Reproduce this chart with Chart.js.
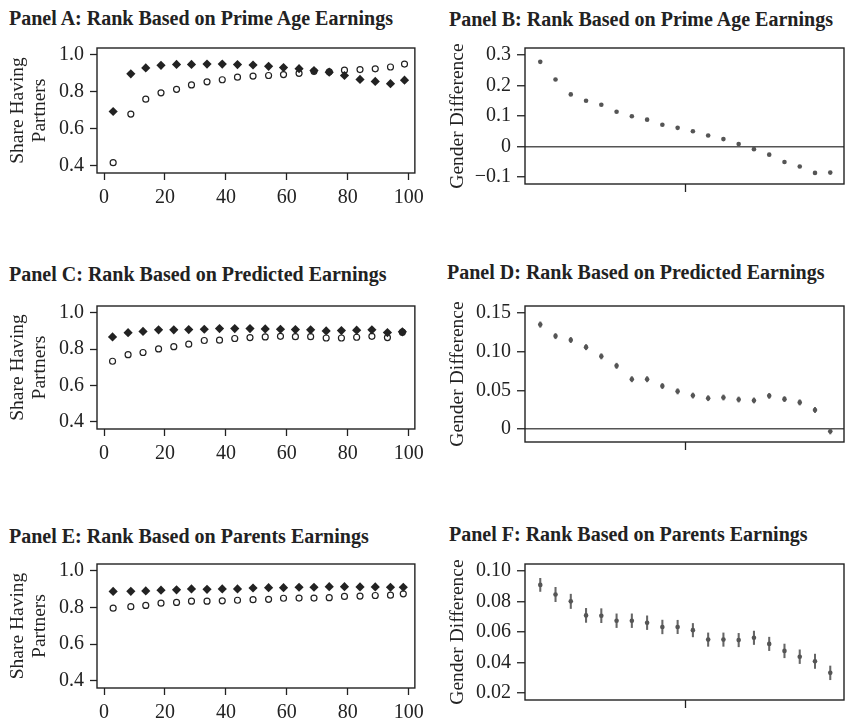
<!DOCTYPE html>
<html>
<head>
<meta charset="utf-8">
<script src="https://cdn.jsdelivr.net/npm/chart.js@4"></script>
<style>
body { margin:0; width:848px; height:723px; overflow:hidden; background:#fff; position:relative; font-family:"Liberation Serif", serif; }
.t { position:absolute; font-weight:bold; font-size:20px; line-height:24px; color:#222; white-space:nowrap; }
canvas { position:absolute; }
</style>
</head>
<body>
<div class="t" style="left:9px;top:6px">Panel A: Rank Based on Prime Age Earnings</div>
<div class="t" style="left:449px;top:7px">Panel B: Rank Based on Prime Age Earnings</div>
<div class="t" style="left:9px;top:262px">Panel C: Rank Based on Predicted Earnings</div>
<div class="t" style="left:447px;top:260px">Panel D: Rank Based on Predicted Earnings</div>
<div class="t" style="left:9px;top:524px">Panel E: Rank Based on Parents Earnings</div>
<div class="t" style="left:449px;top:522px">Panel F: Rank Based on Parents Earnings</div>

<canvas id="cA" width="430" height="190" style="left:0;top:30px"></canvas>
<canvas id="cB" width="418" height="190" style="left:430px;top:30px"></canvas>
<canvas id="cC" width="430" height="190" style="left:0;top:288px"></canvas>
<canvas id="cD" width="418" height="190" style="left:430px;top:288px"></canvas>
<canvas id="cE" width="430" height="190" style="left:0;top:546px"></canvas>
<canvas id="cF" width="418" height="190" style="left:430px;top:546px"></canvas>

<script>
// rank positions (left panels) and bin index (right panels)
var rankA = [3.0, 8.8, 13.7, 18.7, 23.8, 28.7, 33.8, 38.8, 43.8, 48.9, 54.0, 58.9, 64.0, 68.9, 73.9, 78.9, 84.0, 89.0, 94.0, 98.6];
var rankC = [2.8, 7.9, 12.8, 17.9, 22.9, 27.8, 32.9, 37.9, 42.9, 47.9, 52.9, 57.9, 62.8, 67.8, 72.9, 77.9, 82.9, 87.9, 93.0, 97.9];
var rankE = [3.0, 8.8, 13.7, 18.7, 23.8, 28.7, 33.8, 38.8, 43.8, 48.9, 54.0, 58.9, 64.0, 68.9, 73.9, 78.9, 84.0, 89.0, 94.0, 98.2];
var bins = [1, 2, 3, 4, 5, 6, 7, 8, 9, 10, 11, 12, 13, 14, 15, 16, 17, 18, 19, 20];

// Panel A
var filledA = [0.693, 0.897, 0.929, 0.943, 0.948, 0.948, 0.950, 0.950, 0.947, 0.945, 0.938, 0.931, 0.925, 0.915, 0.906, 0.888, 0.867, 0.856, 0.844, 0.863];
var hollowA = [0.416, 0.679, 0.760, 0.794, 0.813, 0.837, 0.854, 0.865, 0.879, 0.885, 0.888, 0.893, 0.900, 0.911, 0.908, 0.917, 0.920, 0.924, 0.934, 0.950];
// Panel C
var filledC = [0.867, 0.890, 0.897, 0.906, 0.906, 0.907, 0.909, 0.913, 0.913, 0.913, 0.911, 0.909, 0.907, 0.906, 0.900, 0.902, 0.904, 0.906, 0.891, 0.895];
var hollowC = [0.733, 0.769, 0.781, 0.801, 0.813, 0.827, 0.847, 0.849, 0.858, 0.863, 0.867, 0.870, 0.868, 0.868, 0.861, 0.861, 0.865, 0.870, 0.863, 0.893];
// Panel E
var filledE = [0.887, 0.888, 0.890, 0.894, 0.896, 0.901, 0.899, 0.901, 0.901, 0.906, 0.908, 0.908, 0.910, 0.910, 0.913, 0.913, 0.912, 0.912, 0.910, 0.910];
var hollowE = [0.796, 0.804, 0.811, 0.823, 0.827, 0.834, 0.834, 0.836, 0.839, 0.842, 0.844, 0.850, 0.851, 0.851, 0.853, 0.860, 0.862, 0.865, 0.867, 0.874];

// gender differences and error half-widths
var diffB = [0.278, 0.220, 0.171, 0.150, 0.137, 0.114, 0.099, 0.088, 0.071, 0.061, 0.050, 0.036, 0.024, 0.008, -0.009, -0.027, -0.051, -0.066, -0.087, -0.086];
var diffD = [0.1345, 0.1197, 0.1147, 0.1055, 0.0937, 0.0815, 0.0643, 0.0643, 0.0555, 0.0487, 0.0433, 0.0399, 0.0408, 0.0382, 0.0370, 0.0429, 0.0387, 0.0345, 0.0248, -0.0025];
var errD = [0.0035, 0.0034, 0.0034, 0.0034, 0.0034, 0.0034, 0.0034, 0.0034, 0.0034, 0.0034, 0.0033, 0.0033, 0.0033, 0.0033, 0.0033, 0.0033, 0.0033, 0.0034, 0.0034, 0.0036];
var diffF = [0.0910, 0.0847, 0.0802, 0.0710, 0.0708, 0.0675, 0.0675, 0.0662, 0.0634, 0.0634, 0.0613, 0.0551, 0.0551, 0.0548, 0.0563, 0.0523, 0.0477, 0.0439, 0.0409, 0.0333];
var errF = [0.0043, 0.0047, 0.0047, 0.0046, 0.0046, 0.0045, 0.0045, 0.0045, 0.0045, 0.0044, 0.0044, 0.0044, 0.0044, 0.0044, 0.0044, 0.0044, 0.0045, 0.0045, 0.0047, 0.0045];

// tick values
var rankTicks = [0, 20, 40, 60, 80, 100];
var shareTicks = [0.4, 0.6, 0.8, 1.0];
var ticksB = [-0.1, 0, 0.1, 0.2, 0.3];
var ticksD = [0, 0.05, 0.10, 0.15];
var ticksF = [0.02, 0.04, 0.06, 0.08, 0.10];
var binTicks = [10.5];

Chart.defaults.font.family = '"Liberation Serif", serif';
Chart.defaults.color = '#222';

var boxPlugin = {
  id: 'box',
  afterDatasetsDraw: function (chart) {
    var a = chart.chartArea, c = chart.ctx;
    c.save();
    c.strokeStyle = '#222';
    c.lineWidth = 1.4;
    c.strokeRect(a.left, a.top, a.right - a.left, a.bottom - a.top);
    c.restore();
  }
};

function pts(xs, ys) {
  return xs.map(function (x, i) { return { x: x, y: ys[i] }; });
}

function shareChart(id, xs, filled, hollow, xAxisH) {
  new Chart(document.getElementById(id), {
    type: 'scatter',
    data: {
      datasets: [{
        data: pts(xs, filled),
        pointStyle: 'rectRot', pointRadius: 4.6, backgroundColor: '#222', borderColor: '#222', borderWidth: 0,
        order: 0
      }, {
        data: pts(xs, hollow),
        pointStyle: 'circle', pointRadius: 3, backgroundColor: '#fff', borderColor: '#222', borderWidth: 1.2,
        order: 1
      }]
    },
    options: {
      responsive: false, animation: false,
      layout: { padding: { left: 0, right: 12, top: 15, bottom: 0 } },
      plugins: { legend: { display: false }, tooltip: { enabled: false } },
      scales: {
        x: {
          min: -2.3, max: 102,
          afterFit: function (s) { s.height = xAxisH; },
          afterBuildTicks: function (s) { s.ticks = rankTicks.map(function (v) { return { value: v }; }); },
          grid: { drawOnChartArea: false, tickLength: 7, tickColor: '#222', tickWidth: 1.3 },
          border: { display: false },
          ticks: { font: { size: 20 }, padding: 6, maxRotation: 0 }
        },
        y: {
          min: 0.36, max: 1.037,
          afterFit: function (s) { s.width = 97; },
          afterBuildTicks: function (s) { s.ticks = shareTicks.map(function (v) { return { value: v }; }); },
          grid: { drawOnChartArea: false, tickLength: 7, tickColor: '#222', tickWidth: 1.3 },
          border: { display: false },
          ticks: { font: { size: 20 }, padding: 6, callback: function (v) { return v.toFixed(1); } },
          title: { display: true, text: ['Share Having', 'Partners'], font: { size: 19.5, lineHeight: '22px' }, padding: { top: 7, bottom: 0 } }
        }
      }
    },
    plugins: [boxPlugin]
  });
}

function diffChart(id, diff, err, yMin, yMax, yTicks, fmt) {
  var datasets = [{
    type: 'scatter',
    data: pts(bins, diff),
    pointStyle: 'circle', pointRadius: 2.3, backgroundColor: '#555', borderWidth: 0,
    order: 0
  }];
  if (err) {
    datasets.push({
      type: 'bar',
      data: bins.map(function (x, i) { return { x: x, y: [diff[i] - err[i], diff[i] + err[i]] }; }),
      backgroundColor: '#666', borderWidth: 0, barThickness: 1.4,
      order: 1
    });
  }
  new Chart(document.getElementById(id), {
    type: 'scatter',
    data: { datasets: datasets },
    options: {
      responsive: false, animation: false,
      layout: { padding: { left: 0, right: 1, top: 15, bottom: 0 } },
      plugins: { legend: { display: false }, tooltip: { enabled: false } },
      scales: {
        x: {
          type: 'linear', min: 0, max: 20.9, offset: false,
          afterFit: function (s) { s.height = 190 - 15 - 139; },
          afterBuildTicks: function (s) { s.ticks = binTicks.map(function (v) { return { value: v }; }); },
          grid: { drawOnChartArea: false, tickLength: 8, tickColor: '#222', tickWidth: 1.3, offset: false },
          border: { display: false },
          ticks: { display: false }
        },
        y: {
          min: yMin, max: yMax,
          afterFit: function (s) { s.width = 95; },
          afterBuildTicks: function (s) { s.ticks = yTicks.map(function (v) { return { value: v }; }); },
          grid: {
            drawOnChartArea: true, tickLength: 8, tickColor: '#222', tickWidth: 1.3, lineWidth: 1.5,
            color: function (c) { return c.tick && Math.abs(c.tick.value) < 1e-9 ? '#555' : 'rgba(0,0,0,0)'; }
          },
          border: { display: false },
          ticks: { font: { size: 20 }, padding: 6, callback: fmt },
          title: { display: true, text: 'Gender Difference', font: { size: 19.5, lineHeight: '22px' }, padding: { top: 17, bottom: 0 } }
        }
      }
    },
    plugins: [boxPlugin]
  });
}

function fmtB(v) {
  if (Math.abs(v) < 1e-9) return '0';
  return v < 0 ? '\u2212' + Math.abs(v).toFixed(1) : v.toFixed(1);
}
function fmt2(v) {
  if (Math.abs(v) < 1e-9) return '0';
  return v.toFixed(2);
}

shareChart('cA', rankA, filledA, hollowA, 190 - 15 - 128);
shareChart('cC', rankC, filledC, hollowC, 190 - 15 - 126);
shareChart('cE', rankE, filledE, hollowE, 190 - 15 - 127);

diffChart('cB', diffB, null, -0.1235, 0.3235, ticksB, fmtB);
diffChart('cD', diffD, errD, -0.0164, 0.1584, ticksD, fmt2);
diffChart('cF', diffF, errF, 0.0155, 0.1047, ticksF, fmt2);
</script>
</body>
</html>
